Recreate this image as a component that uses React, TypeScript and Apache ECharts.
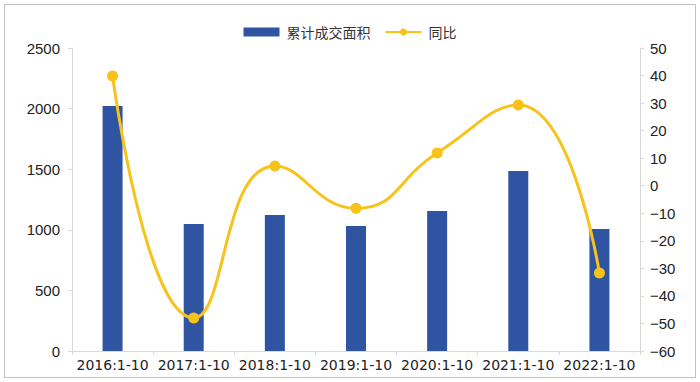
import React, { useEffect, useRef } from "react";
import * as echarts from "echarts";

const categories = ["2016:1-10", "2017:1-10", "2018:1-10", "2019:1-10", "2020:1-10", "2021:1-10", "2022:1-10"];
const areaValues = [2021, 1047, 1122, 1031, 1155, 1485, 1006];
const yoyValues = [39.8, -48, 7.2, -8.2, 11.9, 29.3, -31.7];
const leftTicks = { min: 0, max: 2500, interval: 500 };
const rightTicks = { min: -60, max: 50, interval: 10 };

export default function App() {
  const ref = useRef<HTMLDivElement>(null);
  useEffect(() => {
    const chart = echarts.init(ref.current!, null, { renderer: "svg" });
    chart.setOption({
      animation: false,
      backgroundColor: "#ffffff",
      graphic: [
        {
          type: "rect",
          shape: { x: 4.5, y: 4.5, width: 691, height: 373 },
          style: { fill: "none", stroke: "#bfbfbf", lineWidth: 1 },
          silent: true,
        },
      ],
      legend: {
        top: 20,
        left: "center",
        itemGap: 14,
        itemWidth: 36,
        itemHeight: 9,
        textStyle: { fontFamily: "Noto Sans CJK SC", fontSize: 14, color: "#333", padding: [0, 0, 0, 2] },
        data: [
          { name: "累计成交面积", icon: "rect" },
          { name: "同比" },
        ],
      },
      grid: { left: 72, right: 60, top: 48, bottom: 31, containLabel: false },
      xAxis: {
        type: "category",
        data: categories,
        axisLine: { show: true, lineStyle: { color: "#d9d9d9" } },
        axisTick: { show: true, alignWithLabel: false, length: 4, lineStyle: { color: "#d9d9d9" } },
        axisLabel: { color: "#222", fontSize: 14, fontFamily: "DejaVu Sans", margin: 7, interval: 0 },
      },
      yAxis: [
        {
          type: "value",
          min: leftTicks.min,
          max: leftTicks.max,
          interval: leftTicks.interval,
          axisLine: { show: true, lineStyle: { color: "#d9d9d9" } },
          axisTick: { show: true, length: 4, lineStyle: { color: "#d9d9d9" } },
          splitLine: { show: false },
          axisLabel: {
            color: "#222",
            fontSize: 15,
            fontFamily: "Liberation Sans",
            margin: 12,
            formatter: (v: number) => String(v),
          },
        },
        {
          type: "value",
          min: rightTicks.min,
          max: rightTicks.max,
          interval: rightTicks.interval,
          axisLine: { show: true, lineStyle: { color: "#d9d9d9" } },
          axisTick: { show: true, length: 4, lineStyle: { color: "#d9d9d9" } },
          splitLine: { show: false },
          axisLabel: {
            color: "#222",
            fontSize: 15,
            fontFamily: "Liberation Sans",
            margin: 10,
            formatter: (v: number) => (v < 0 ? "\u2212" + Math.abs(v) : String(v)),
          },
        },
      ],
      series: [
        {
          name: "累计成交面积",
          type: "bar",
          data: areaValues,
          barWidth: 20,
          itemStyle: { color: "#2E54A2" },
          yAxisIndex: 0,
        },
        {
          name: "同比",
          type: "line",
          data: yoyValues,
          yAxisIndex: 1,
          smooth: 0.5,
          symbol: "circle",
          symbolSize: 11,
          lineStyle: { color: "#F7C31A", width: 3 },
          itemStyle: { color: "#F7C31A" },
        },
      ],
    });
    return () => chart.dispose();
  }, []);
  return (
    <div
      ref={ref}
      style={{ position: "absolute", left: 0, top: 0, width: 700, height: 382 }}
    />
  );
}
